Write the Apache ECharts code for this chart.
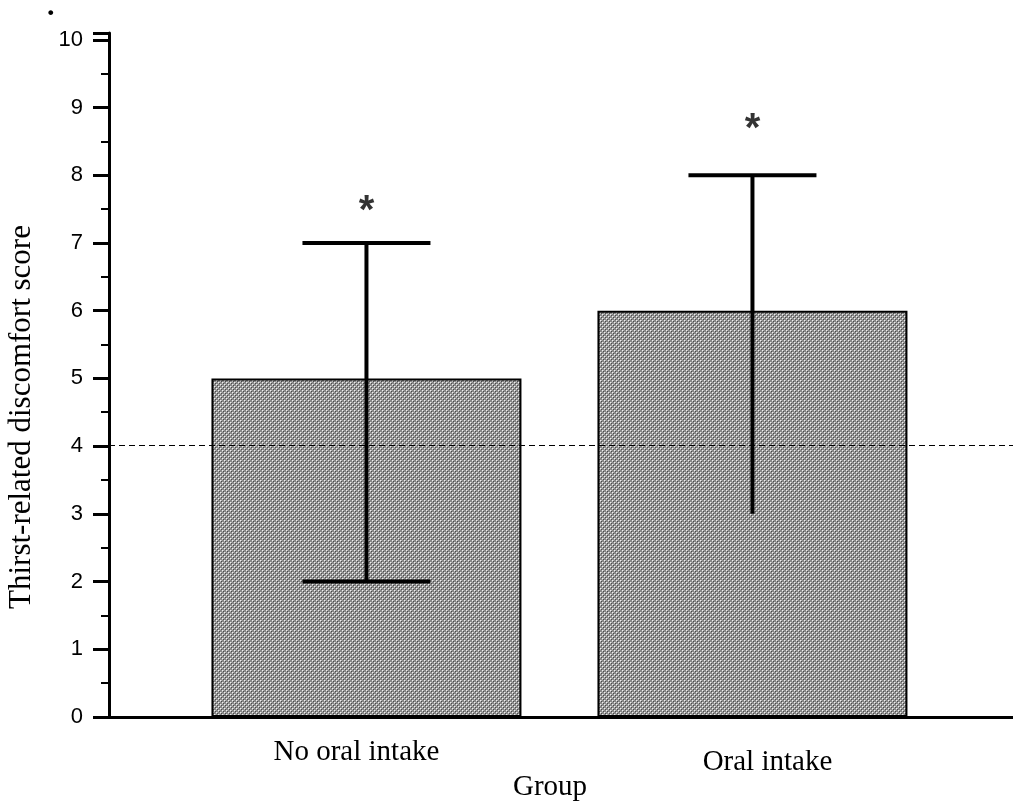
<!DOCTYPE html>
<html>
<head>
<meta charset="utf-8">
<script src="https://cdn.jsdelivr.net/npm/echarts@6/dist/echarts.min.js"></script>
<style>html,body{margin:0;padding:0;background:#fff}#c{width:1013px;height:802px}</style>
</head>
<body>
<div id="c"></div>
<script>
// ---- data ----
const categories = ['No oral intake', 'Oral intake'];
const groupPos = [1, 2];
const meanScore = [5, 6];
const errLow = [2, 3];
const errHigh = [7, 8];
const errLowCap = [1, 0];
const starLevel = [7.55, 8.75];
const refLine = 4.02;
const yTicks = [0, 1, 2, 3, 4, 5, 6, 7, 8, 9, 10];

// ---- pattern fill ----
function makePattern() {
  const c = document.createElement('canvas');
  c.width = 4; c.height = 4;
  const g = c.getContext('2d');
  g.fillStyle = '#888'; g.fillRect(0, 0, 4, 4);
  g.fillStyle = '#eeeeee';
  g.fillRect(0, 0, 1, 1); g.fillRect(2, 2, 1, 1);
  g.fillStyle = '#b5b5b5';
  g.fillRect(1, 0, 1, 1); g.fillRect(0, 1, 1, 1); g.fillRect(3, 2, 1, 1); g.fillRect(2, 3, 1, 1);
  g.fillStyle = '#4a4a4a';
  g.fillRect(1, 1, 1, 1); g.fillRect(3, 3, 1, 1);
  return c;
}

const chart = echarts.init(document.getElementById('c'), null, {renderer: 'canvas'});
const serif = '"Liberation Serif", "Times New Roman", serif';
const sans = '"Liberation Sans", Arial, sans-serif';

const option = {
  animation: false,
  backgroundColor: '#fff',
  grid: {left: 109, right: 0, top: 33, bottom: 85, containLabel: false, outerBoundsMode: 'none'},
  graphic: [{type: 'text', left: 47, top: -8, style: {text: '.', font: 'bold 30px ' + serif, fill: '#000'}}],
  xAxis: {
    type: 'value', min: 0.333, max: 2.675,
    splitLine: {show: false},
    axisLine: {show: true, onZero: false, lineStyle: {color: '#000', width: 3}},
    axisTick: {show: false},
    name: 'Group', nameLocation: 'middle', nameGap: 56, nameMoveOverlap: false,
    nameTextStyle: {fontFamily: serif, fontSize: 29, color: '#000', padding: [0, 22, 0, 0]},
    axisLabel: {
      customValues: groupPos, margin: 21,
      formatter: function (v) {
        const i = groupPos.indexOf(v);
        return i === 0 ? '{a|' + categories[0] + '}' : '{b|' + categories[1] + '}';
      },
      rich: {
        a: {fontFamily: serif, fontSize: 29, color: '#000', lineHeight: 28, padding: [0, 20, 0, 0]},
        b: {fontFamily: serif, fontSize: 29, color: '#000', lineHeight: 48, padding: [0, 0, 0, 30]}
      }
    }
  },
  yAxis: {
    type: 'value', min: 0, max: 10.1, interval: 1,
    splitLine: {show: false},
    axisLine: {show: true, lineStyle: {color: '#000', width: 3}},
    axisTick: {show: true, length: 16, lineStyle: {color: '#000', width: 3}},
    minorTick: {show: true, splitNumber: 2, length: 8, lineStyle: {color: '#000', width: 2}},
    axisLabel: {
      margin: 26, fontFamily: sans, fontSize: 22, color: '#000',
      formatter: function (v) { return yTicks.indexOf(v) >= 0 ? String(v) : ''; }
    },
    name: 'Thirst-related discomfort score', nameLocation: 'middle', nameGap: 72, nameMoveOverlap: false,
    nameTextStyle: {fontFamily: serif, fontSize: 31, color: '#000', padding: [0, 84, 0, 0]}
  },
  series: [
    {
      type: 'bar', barWidth: 310,
      data: groupPos.map((x, i) => [x, meanScore[i]]),
      itemStyle: {color: {image: makePattern(), repeat: 'repeat'}, borderColor: '#000', borderWidth: 2},
      markLine: {
        silent: true, symbol: 'none', label: {show: false},
        lineStyle: {color: '#000', type: [6, 4], width: 1},
        data: [{yAxis: refLine}]
      },
      z: 2
    },
    {
      type: 'custom',
      data: groupPos.map((x, i) => [x, errLow[i], errHigh[i], errLowCap[i]]),
      renderItem: function (params, api) {
        const x = api.value(0);
        const lo = api.coord([x, api.value(1)]);
        const hi = api.coord([x, api.value(2)]);
        const half = 64;
        const st = {stroke: '#000', lineWidth: 4};
        const ch = [
          {type: 'line', shape: {x1: hi[0], y1: hi[1], x2: lo[0], y2: lo[1]}, style: st},
          {type: 'line', shape: {x1: hi[0] - half, y1: hi[1], x2: hi[0] + half, y2: hi[1]}, style: st}
        ];
        if (api.value(3)) ch.push({type: 'line', shape: {x1: lo[0] - half, y1: lo[1], x2: lo[0] + half, y2: lo[1]}, style: st});
        return {type: 'group', children: ch};
      },
      z: 5
    },
    {
      type: 'scatter', symbolSize: 1, itemStyle: {color: 'rgba(0,0,0,0)'},
      data: groupPos.map((x, i) => [x, starLevel[i]]),
      label: {show: true, position: 'inside', formatter: '*', fontFamily: sans, fontWeight: 'bold', fontSize: 40, color: '#000', textBorderWidth: 0, offset: [0, 6]},
      z: 6
    }
  ]
};
chart.setOption(option);
</script>
</body>
</html>
